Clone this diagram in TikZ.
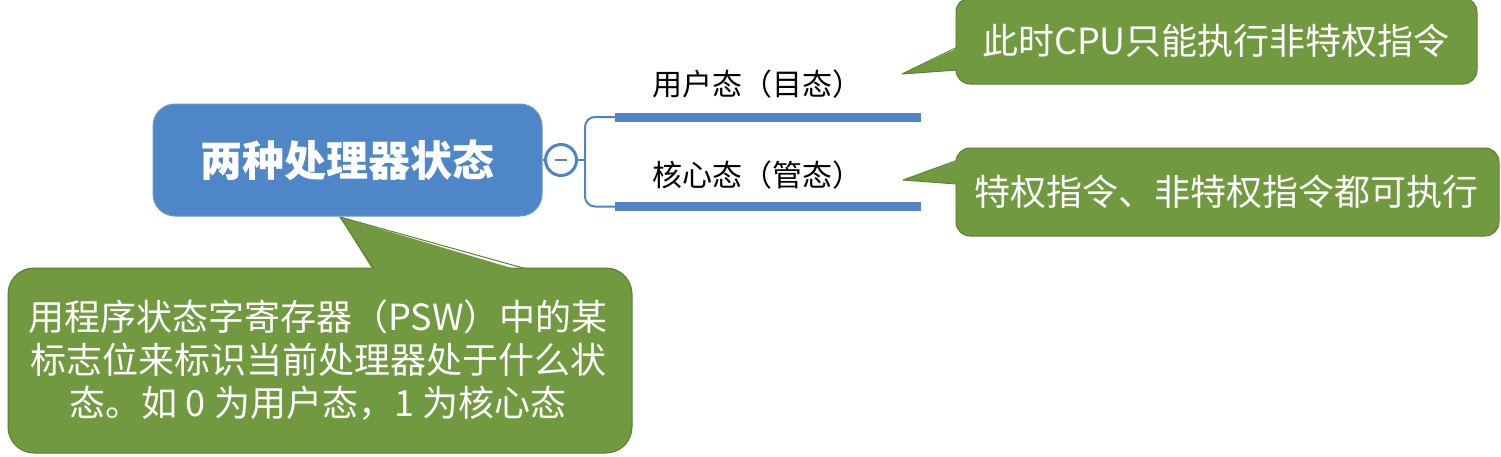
\documentclass[tikz,border=0pt]{standalone}
\usepackage{fontspec}
\setmainfont{Noto Sans CJK SC}
\newfontfamily\cjk{Noto Sans CJK SC}
\definecolor{rootblue}{HTML}{4E86C8}
\definecolor{lineblue}{HTML}{4F84C6}
\definecolor{calgreen}{HTML}{71993F}
\definecolor{calborder}{HTML}{5B7F31}
\tikzset{
  rootbox/.style={fill=rootblue, draw=rootblue!85!white, line width=1pt, rounded corners=22pt,
    minimum width=389pt, minimum height=112pt, text=white, inner sep=0pt,
    font=\cjk\bfseries\fontsize{42}{48}\selectfont},
  toggle/.style={circle, draw=lineblue, line width=3pt, fill=white, minimum size=31pt, inner sep=0pt},
  branchlabel/.style={text=black, inner sep=0pt, font=\cjk\fontsize{30}{36}\selectfont},
  calbox/.style={fill=calgreen, draw=calborder, line width=1pt},
  calfill/.style={fill=calgreen},
  caledge/.style={draw=calborder, line width=1pt, line join=round},
  callouttext/.style={text=white, inner sep=0pt, align=center, font=\cjk\fontsize{36}{43}\selectfont},
  thin/.style={draw=lineblue, line width=2pt},
  thick/.style={draw=lineblue, line width=9pt},
}
\begin{document}
\begin{tikzpicture}[x=1pt,y=-1pt]
\useasboundingbox (0,0) rectangle (1501,456);
\fill[white] (0,0) rectangle (1501,456);

% callout 1
\filldraw[calbox, rounded corners=14pt] (956,-2) rectangle (1477,84);
\fill[calfill] (960,47) -- (902,74) -- (960,70) -- cycle;
\draw[caledge] (956.5,47.5) -- (902,74) -- (956.5,70);
% callout 2
\filldraw[calbox, rounded corners=14pt] (956,148) rectangle (1499,236);
\fill[calfill] (960,160) -- (903,180) -- (960,184) -- cycle;
\draw[caledge] (956.5,160.5) -- (903,180) -- (956.5,184);
% callout 3
\filldraw[calbox, rounded corners=26pt] (8,268) rectangle (632,453);
\fill[calfill] (374,272) -- (340,217) -- (525,272) -- cycle;
\draw[caledge] (374,268.5) -- (340,217) -- (525,268.5);

% root and toggle
\node[rootbox] (root) at (347.5,160) {两种处理器状态};
\node[toggle] (tog) at (561,160) {};
\draw[lineblue!70!gray, line width=2pt] ([xshift=-6pt]tog.center) -- ([xshift=6pt]tog.center);
\draw[thin] (root.east) -- (tog.west);

% bracket and branch lines
\coordinate (bj) at (585,160);
\coordinate (u0) at (615,117);
\coordinate (u1) at (921,117);
\coordinate (k0) at (615,206.5);
\coordinate (k1) at (921,206.5);
\draw[thin] (tog.east) -- (bj);
\draw[thin, rounded corners=10pt] (u0) -| (bj) |- (k0);
\draw[thick] (u0) -- (u1);
\draw[thick] (k0) -- (k1);

\node[branchlabel] (user) at (757,84) {用户态（目态）};
\node[branchlabel] (kern) at (757,175) {核心态（管态）};

% callout texts
\node[callouttext] (c1) at (1216,41) {此时CPU只能执行非特权指令};
\node[callouttext] (c2) at (1226,192) {特权指令、非特权指令都可执行};
\node[callouttext] (c3) at (318,360) {用程序状态字寄存器（PSW）中的某\\标志位来标识当前处理器处于什么状\\态。如 0 为用户态，1 为核心态};
\end{tikzpicture}
\end{document}
